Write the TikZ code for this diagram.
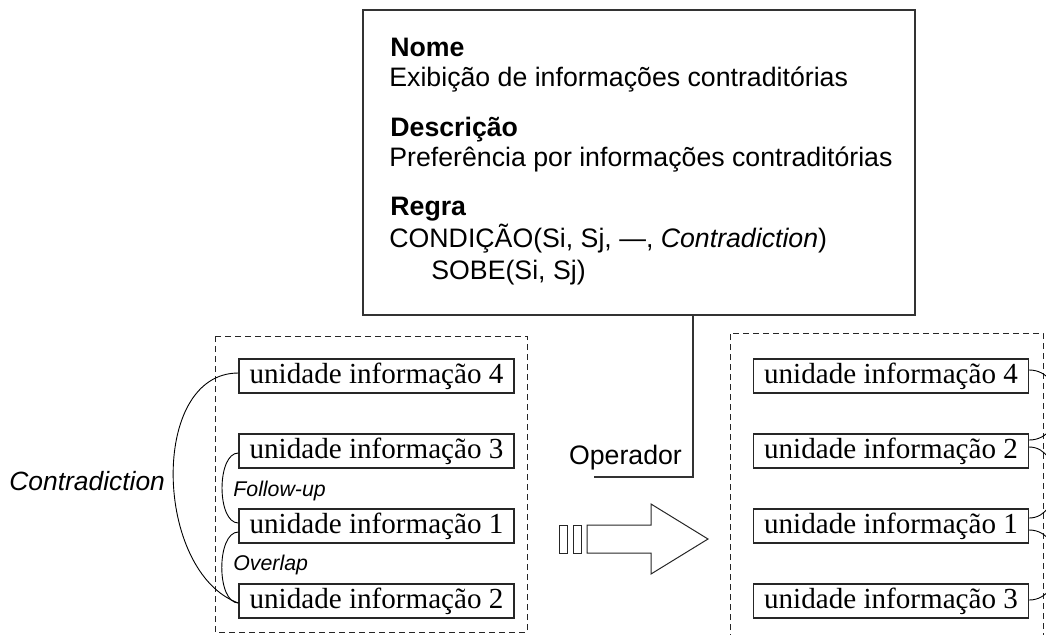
\documentclass[tikz,border=0pt]{standalone}
\usepackage{fontspec}
\setmainfont{Liberation Serif}
\newfontfamily\arial{Liberation Sans}
\usetikzlibrary{calc}
\begin{document}
\begin{tikzpicture}[x=0.5pt,y=-0.5pt,
  unitbox/.style={draw=black!85, line width=0.6pt, minimum width=137.5pt, minimum height=17pt, inner sep=0pt, font=\fontsize{14.55}{16}\selectfont},
  grp/.style={draw=black!85, line width=0.5pt, dash pattern=on 3pt off 2pt},
  rel/.style={draw=black, line width=0.45pt},
  toptxt/.style={anchor=base west, inner sep=0pt, font=\arial\fontsize{13.35}{15}\selectfont},
  lbl/.style={anchor=base west, inner sep=0pt, font=\arial\itshape\fontsize{10.65}{12}\selectfont}
]
\useasboundingbox (0,0) rectangle (1046,634);
\clip (0,0) rectangle (1046,634);

% rule box
\node[draw=black!80, line width=0.6pt, minimum width=276pt, minimum height=152.5pt, inner sep=0pt] (rule) at (639,162.5) {};
\node[toptxt] (t1) at (390,56.5) {\bfseries Nome};
\node[toptxt] (t2) at (389,86) {Exibição de informações contraditórias};
\node[toptxt] (t3) at (390,136.5) {\bfseries Descrição};
\node[toptxt] (t4) at (389,166) {Preferência por informações contraditórias};
\node[toptxt] (t5) at (390,215.5) {\bfseries Regra};
\node[toptxt] (t6) at (389,247) {CONDIÇÃO(Si, Sj, —, \textit{Contradiction})};
\node[toptxt] (t7) at (431,279) {SOBE(Si, Sj)};

% operator connector
\coordinate (opx) at (693,477);
\coordinate (opend) at (594,477);
\draw[draw=black!80, line width=0.6pt] (rule.south -| opx) |- (opend);
\node[anchor=base, inner sep=0pt, font=\arial\fontsize{13.35}{15}\selectfont] (op) at (625.5,464) {Operador};

% left group
\draw[grp] (215,336) rectangle (527,632);
\node[unitbox] (u4) at (376.5,376) {unidade informação 4};
\node[unitbox] (u3) at (376.5,451) {unidade informação 3};
\node[unitbox] (u1) at (376.5,526) {unidade informação 1};
\node[unitbox] (u2) at (376.5,601) {unidade informação 2};

\draw[rel] ($(u4.west)+(0,-3)$) to[out=180,in=160,looseness=1] ($(u2.west)+(0,2)$);
\draw[rel] ($(u3.west)+(0,2)$) to[out=180,in=180,looseness=0.8] ($(u1.west)+(0,-3)$);
\draw[rel] ($(u1.west)+(0,6)$) to[out=180,in=180,looseness=0.8] ($(u2.west)+(0,2)$);

\node[anchor=base west, inner sep=0pt, font=\arial\itshape\fontsize{13.2}{15}\selectfont] (contr) at (9,490) {Contradiction};
\node[lbl] (fu) at (233,496) {Follow-up};
\node[lbl] (ov) at (233,570) {Overlap};

% arrow
\draw[black!85, line width=0.5pt] (559,525) rectangle (567,553);
\draw[black!85, line width=0.5pt] (573,525) rectangle (581,553);
\draw[black!85, line width=0.5pt] (587,525) -- (651,525) -- (651,504) -- (708,539) -- (651,574) -- (651,553) -- (587,553) -- cycle;

% right group
\draw[grp] (730,660) -- (730,333) -- (1043,333) -- (1043,660);
\node[unitbox] (r4) at (891,376) {unidade informação 4};
\node[unitbox] (r2) at (891,451) {unidade informação 2};
\node[unitbox] (r1) at (891,526) {unidade informação 1};
\node[unitbox] (r3) at (891,601) {unidade informação 3};

\draw[rel] ($(r4.east)+(0,-6)$) to[out=0,in=0,looseness=1.4] ($(r2.east)+(0,-11)$);
\draw[rel] ($(r2.east)+(0,-4)$) to[out=0,in=0,looseness=1.25] ($(r1.east)+(0,-8)$);
\draw[rel] ($(r1.east)+(0,4)$) to[out=0,in=0,looseness=1.35] ($(r3.east)+(0,-1)$);
\end{tikzpicture}
\end{document}
